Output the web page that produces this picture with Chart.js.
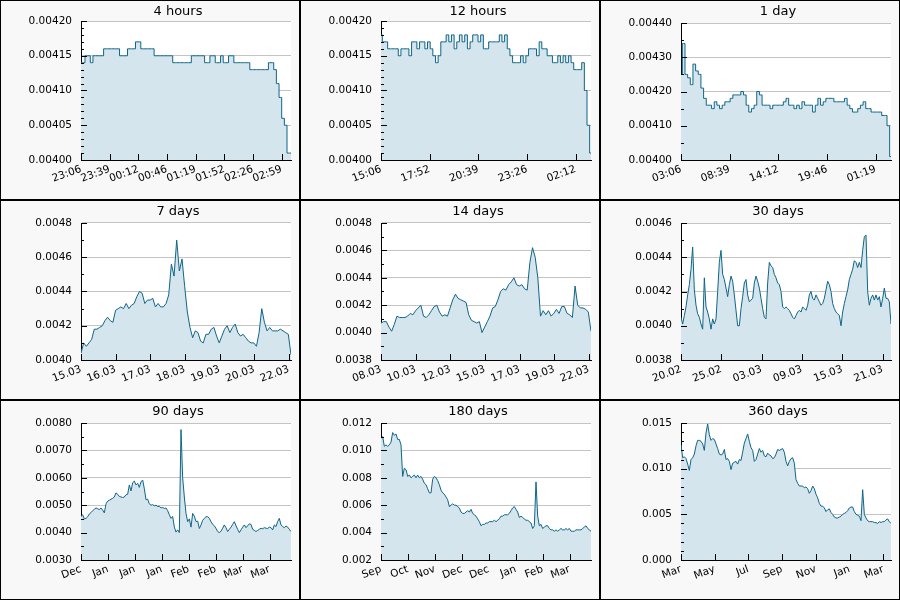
<!DOCTYPE html>
<html>
<head>
<meta charset="utf-8">
<title>Price history</title>
<script src="https://cdn.jsdelivr.net/npm/chart.js"></script>
<style>
  body { margin: 0; background: #fff; }
  #grid { width: 900px; height: 600px; display: grid; grid-template-columns: repeat(3, 300px); grid-template-rows: repeat(3, 200px); }
  .cell { box-sizing: border-box; width: 300px; height: 200px; border: 1px solid #000; background: #f8f8f8; }
  canvas { display: block; }
</style>
</head>
<body>
<div id="grid"></div>
<script>
// titles of the nine panels
const titles = ['4 hours', '12 hours', '1 day', '7 days', '14 days', '30 days', '90 days', '180 days', '360 days'];

// x tick labels
const ticks4h = ['23:06', '23:39', '00:12', '00:46', '01:19', '01:52', '02:26', '02:59'];
const ticks12h = ['15:06', '17:52', '20:39', '23:26', '02:12'];
const ticks1d = ['03:06', '08:39', '14:12', '19:46', '01:19'];
const ticks7d = ['15.03', '16.03', '17.03', '18.03', '19.03', '20.03', '22.03'];
const ticks14d = ['08.03', '10.03', '12.03', '15.03', '17.03', '19.03', '22.03'];
const ticks30d = ['20.02', '25.02', '03.03', '09.03', '15.03', '21.03'];
const ticks90d = ['Dec', 'Jan', 'Jan', 'Jan', 'Feb', 'Feb', 'Mar', 'Mar'];
const ticks180d = ['Sep', 'Oct', 'Nov', 'Dec', 'Dec', 'Jan', 'Feb', 'Mar'];
const ticks360d = ['Mar', 'May', 'Jul', 'Sep', 'Nov', 'Jan', 'Mar'];

// y axis ranges [min, max, step]
const yRange4h = [0.0040, 0.0042, 0.00005];
const yRange12h = [0.0040, 0.0042, 0.00005];
const yRange1d = [0.0040, 0.0044, 0.0001];
const yRange7d = [0.0040, 0.0048, 0.0002];
const yRange14d = [0.0038, 0.0048, 0.0002];
const yRange30d = [0.0038, 0.0046, 0.0002];
const yRange90d = [0.0030, 0.0080, 0.0010];
const yRange180d = [0.002, 0.012, 0.002];
const yRange360d = [0.000, 0.015, 0.005];

// price samples, evenly spaced over each period
const hours4 = [0.00414, 0.00414, 0.00415, 0.00415, 0.00414, 0.00415, 0.00415, 0.00415, 0.00415, 0.00416,
  0.00416, 0.00416, 0.00416, 0.00416, 0.00416, 0.00415, 0.00415, 0.00415, 0.00416, 0.00416,
  0.00416, 0.00417, 0.00417, 0.00416, 0.00416, 0.00416, 0.00416, 0.00416, 0.00415, 0.00415,
  0.00415, 0.00415, 0.00415, 0.00415, 0.00415, 0.00414, 0.00414, 0.00414, 0.00414, 0.00414,
  0.00414, 0.00414, 0.00415, 0.00415, 0.00415, 0.00415, 0.00415, 0.00414, 0.00414, 0.00415,
  0.00415, 0.00414, 0.00414, 0.00415, 0.00414, 0.00414, 0.00415, 0.00415, 0.00414, 0.00414,
  0.00414, 0.00414, 0.00414, 0.00414, 0.00413, 0.00413, 0.00413, 0.00413, 0.00413, 0.00413,
  0.00413, 0.00414, 0.00414, 0.00413, 0.00411, 0.00409, 0.00406, 0.00405, 0.00401, 0.00401];

const hours12 = [0.00418, 0.00417, 0.00417, 0.00416, 0.00416, 0.00416, 0.00416, 0.00415, 0.00416, 0.00416,
  0.00416, 0.00415, 0.00417, 0.00417, 0.00416, 0.00417, 0.00417, 0.00416, 0.00417, 0.00416,
  0.00415, 0.00414, 0.00415, 0.00417, 0.00417, 0.00418, 0.00417, 0.00418, 0.00416, 0.00417,
  0.00418, 0.00417, 0.00418, 0.00416, 0.00417, 0.00418, 0.00418, 0.00417, 0.00418, 0.00416,
  0.00416, 0.00417, 0.00417, 0.00417, 0.00417, 0.00418, 0.00417, 0.00418, 0.00416, 0.00415,
  0.00414, 0.00414, 0.00414, 0.00415, 0.00414, 0.00415, 0.00416, 0.00416, 0.00416, 0.00415,
  0.00417, 0.00416, 0.00416, 0.00415, 0.00415, 0.00414, 0.00414, 0.00415, 0.00414, 0.00415,
  0.00414, 0.00415, 0.00414, 0.00413, 0.00413, 0.00413, 0.00414, 0.00410, 0.00405, 0.00401];

const day1 = [0.00425, 0.00434, 0.00425, 0.00424, 0.00422, 0.00428, 0.00426, 0.00425, 0.00421, 0.00418,
  0.00416, 0.00416, 0.00415, 0.00417, 0.00416, 0.00415, 0.00416, 0.00417, 0.00417, 0.00418,
  0.00419, 0.00419, 0.00419, 0.00420, 0.00419, 0.00416, 0.00414, 0.00415, 0.00416, 0.00420,
  0.00419, 0.00416, 0.00416, 0.00416, 0.00415, 0.00416, 0.00416, 0.00416, 0.00416, 0.00417,
  0.00418, 0.00416, 0.00416, 0.00415, 0.00416, 0.00415, 0.00417, 0.00416, 0.00416, 0.00416,
  0.00414, 0.00416, 0.00418, 0.00416, 0.00417, 0.00418, 0.00418, 0.00418, 0.00417, 0.00417,
  0.00417, 0.00417, 0.00418, 0.00416, 0.00415, 0.00414, 0.00414, 0.00415, 0.00416, 0.00417,
  0.00415, 0.00415, 0.00414, 0.00414, 0.00414, 0.00414, 0.00413, 0.00413, 0.00410, 0.00401];

const days7 = [0.00404, 0.00410, 0.00408, 0.00410, 0.00412, 0.00418, 0.00418, 0.00419, 0.00420, 0.00423,
  0.00425, 0.00423, 0.00422, 0.00429, 0.00430, 0.00431, 0.00430, 0.00433, 0.00430, 0.00432,
  0.00433, 0.00437, 0.00440, 0.00439, 0.00433, 0.00435, 0.00435, 0.00436, 0.00431, 0.00433,
  0.00431, 0.00431, 0.00433, 0.00438, 0.00456, 0.00449, 0.00470, 0.00452, 0.00459, 0.00443,
  0.00428, 0.00419, 0.00413, 0.00417, 0.00416, 0.00411, 0.00410, 0.00415, 0.00415, 0.00418,
  0.00419, 0.00414, 0.00410, 0.00414, 0.00418, 0.00420, 0.00416, 0.00419, 0.00421, 0.00416,
  0.00414, 0.00415, 0.00413, 0.00411, 0.00410, 0.00410, 0.00408, 0.00416, 0.00430, 0.00422,
  0.00417, 0.00419, 0.00417, 0.00417, 0.00417, 0.00418, 0.00417, 0.00416, 0.00415, 0.00403];

const days14 = [0.00407, 0.00408, 0.00408, 0.00404, 0.00401, 0.00406, 0.00412, 0.00411, 0.00411, 0.00411,
  0.00412, 0.00414, 0.00413, 0.00416, 0.00418, 0.00420, 0.00412, 0.00411, 0.00413, 0.00416,
  0.00419, 0.00420, 0.00415, 0.00412, 0.00413, 0.00412, 0.00418, 0.00424, 0.00428, 0.00425,
  0.00424, 0.00423, 0.00422, 0.00413, 0.00409, 0.00408, 0.00407, 0.00408, 0.00400, 0.00404,
  0.00408, 0.00412, 0.00418, 0.00419, 0.00424, 0.00430, 0.00432, 0.00431, 0.00435, 0.00437,
  0.00440, 0.00435, 0.00434, 0.00435, 0.00432, 0.00431, 0.00451, 0.00462, 0.00455, 0.00440,
  0.00412, 0.00416, 0.00413, 0.00416, 0.00412, 0.00414, 0.00417, 0.00414, 0.00419, 0.00419,
  0.00414, 0.00413, 0.00411, 0.00434, 0.00420, 0.00418, 0.00418, 0.00417, 0.00415, 0.00401];

const days30 = [0.00405, 0.00401, 0.00406, 0.00411, 0.00418, 0.00424, 0.00433, 0.00446, 0.00421, 0.00412,
  0.00407, 0.00405, 0.00401, 0.00398, 0.00428, 0.00411, 0.00408, 0.00404, 0.00398, 0.00404,
  0.00401, 0.00404, 0.00420, 0.00437, 0.00444, 0.00430, 0.00427, 0.00422, 0.00417, 0.00424,
  0.00429, 0.00426, 0.00418, 0.00409, 0.00400, 0.00400, 0.00410, 0.00417, 0.00425, 0.00427,
  0.00418, 0.00414, 0.00415, 0.00416, 0.00425, 0.00429, 0.00426, 0.00422, 0.00416, 0.00410,
  0.00405, 0.00404, 0.00425, 0.00437, 0.00435, 0.00434, 0.00430, 0.00428, 0.00425, 0.00424,
  0.00420, 0.00411, 0.00410, 0.00411, 0.00410, 0.00409, 0.00407, 0.00405, 0.00404, 0.00406,
  0.00408, 0.00409, 0.00408, 0.00411, 0.00410, 0.00409, 0.00412, 0.00418, 0.00420, 0.00416,
  0.00415, 0.00418, 0.00416, 0.00414, 0.00412, 0.00413, 0.00416, 0.00421, 0.00426, 0.00424,
  0.00420, 0.00413, 0.00410, 0.00408, 0.00407, 0.00406, 0.00400, 0.00408, 0.00413, 0.00417,
  0.00421, 0.00427, 0.00430, 0.00433, 0.00438, 0.00437, 0.00434, 0.00437, 0.00434, 0.00444,
  0.00452, 0.00453, 0.00420, 0.00412, 0.00416, 0.00418, 0.00415, 0.00418, 0.00415, 0.00417,
  0.00411, 0.00416, 0.00422, 0.00416, 0.00416, 0.00414, 0.00401];

const days90 = [0.00459, 0.00465, 0.00450, 0.00452, 0.00458, 0.00468, 0.00473, 0.00480, 0.00485, 0.00490,
  0.00487, 0.00484, 0.00490, 0.00482, 0.00472, 0.00505, 0.00515, 0.00518, 0.00522, 0.00525,
  0.00530, 0.00545, 0.00540, 0.00532, 0.00530, 0.00528, 0.00530, 0.00538, 0.00540, 0.00574,
  0.00552, 0.00582, 0.00588, 0.00574, 0.00580, 0.00565, 0.00585, 0.00592, 0.00560, 0.00520,
  0.00522, 0.00505, 0.00500, 0.00502, 0.00498, 0.00500, 0.00495, 0.00496, 0.00490, 0.00492,
  0.00488, 0.00490, 0.00480, 0.00465, 0.00452, 0.00459, 0.00420, 0.00402, 0.00410, 0.00400,
  0.00776, 0.00600, 0.00530, 0.00470, 0.00440, 0.00450, 0.00420, 0.00470, 0.00460, 0.00440,
  0.00442, 0.00415, 0.00428, 0.00445, 0.00452, 0.00458, 0.00458, 0.00452, 0.00440, 0.00430,
  0.00425, 0.00415, 0.00404, 0.00400, 0.00405, 0.00416, 0.00428, 0.00418, 0.00404, 0.00412,
  0.00420, 0.00430, 0.00440, 0.00425, 0.00412, 0.00400, 0.00410, 0.00420, 0.00428, 0.00418,
  0.00425, 0.00432, 0.00430, 0.00412, 0.00408, 0.00404, 0.00408, 0.00412, 0.00416, 0.00414,
  0.00418, 0.00416, 0.00415, 0.00420, 0.00418, 0.00410, 0.00428, 0.00422, 0.00440, 0.00452,
  0.00428, 0.00422, 0.00418, 0.00424, 0.00420, 0.00412, 0.00404];

const days180 = [0.0109, 0.0110, 0.0103, 0.0104, 0.0103, 0.0104, 0.0106, 0.0113, 0.0111, 0.0112,
  0.0108, 0.0108, 0.0104, 0.0081, 0.0087, 0.0086, 0.0081, 0.0082, 0.0080, 0.0081,
  0.0082, 0.0080, 0.0082, 0.0080, 0.0081, 0.0079, 0.0076, 0.0075, 0.0072, 0.0069,
  0.0069, 0.0079, 0.0081, 0.0080, 0.0078, 0.0075, 0.0071, 0.0069, 0.0068, 0.0066,
  0.0064, 0.0059, 0.0060, 0.0061, 0.0060, 0.0060, 0.0059, 0.0058, 0.0055, 0.0054,
  0.0054, 0.0055, 0.0056, 0.0055, 0.0057, 0.0054, 0.0053, 0.0052, 0.0050, 0.0048,
  0.0045, 0.0046, 0.0046, 0.0047, 0.0047, 0.0048, 0.0048, 0.0048, 0.0049, 0.0048,
  0.0049, 0.0050, 0.0052, 0.0052, 0.0053, 0.0053, 0.0053, 0.0054, 0.0056, 0.0058,
  0.0059, 0.0057, 0.0055, 0.0051, 0.0052, 0.0051, 0.0050, 0.0049, 0.0049, 0.0048,
  0.0047, 0.0043, 0.0045, 0.0077, 0.0052, 0.0045, 0.0046, 0.0043, 0.0044, 0.0045,
  0.0045, 0.0043, 0.0042, 0.0042, 0.0041, 0.0042, 0.0041, 0.0042, 0.0043, 0.0042,
  0.0042, 0.0043, 0.0042, 0.0043, 0.0041, 0.0041, 0.0041, 0.0042, 0.0042, 0.0042,
  0.0042, 0.0043, 0.0044, 0.0045, 0.0043, 0.0042, 0.0041];

const days360 = [0.0126, 0.0112, 0.0113, 0.0111, 0.0105, 0.0098, 0.0110, 0.0112, 0.0116, 0.0125,
  0.0131, 0.0131, 0.0130, 0.0127, 0.0120, 0.0139, 0.0149, 0.0137, 0.0131, 0.0133,
  0.0132, 0.0127, 0.0122, 0.0116, 0.0115, 0.0116, 0.0121, 0.0110, 0.0111, 0.0108,
  0.0099, 0.0106, 0.0107, 0.0108, 0.0105, 0.0110, 0.0109, 0.0118, 0.0128, 0.0133,
  0.0138, 0.0130, 0.0123, 0.0120, 0.0108, 0.0110, 0.0116, 0.0122, 0.0118, 0.0120,
  0.0114, 0.0113, 0.0117, 0.0115, 0.0114, 0.0111, 0.0112, 0.0116, 0.0121, 0.0120,
  0.0121, 0.0122, 0.0118, 0.0108, 0.0103, 0.0108, 0.0111, 0.0112, 0.0106, 0.0088,
  0.0084, 0.0081, 0.0081, 0.0081, 0.0079, 0.0080, 0.0078, 0.0073, 0.0076, 0.0081,
  0.0078, 0.0072, 0.0068, 0.0062, 0.0059, 0.0059, 0.0057, 0.0053, 0.0055, 0.0056,
  0.0052, 0.0050, 0.0047, 0.0046, 0.0046, 0.0047, 0.0048, 0.0050, 0.0051, 0.0052,
  0.0054, 0.0057, 0.0058, 0.0058, 0.0053, 0.0050, 0.0049, 0.0048, 0.0043, 0.0077,
  0.0050, 0.0046, 0.0043, 0.0042, 0.0042, 0.0042, 0.0041, 0.0041, 0.0040, 0.0042,
  0.0041, 0.0042, 0.0042, 0.0044, 0.0045, 0.0042, 0.0040];

// panel setup: data, ticks, y range, decimals, minor ticks per step, x span in tick units
const panels = [
  { data: hours4, ticks: ticks4h, y: yRange4h, dec: 5, minor: 5, span: 7.33, stepped: true, top: 20 },
  { data: hours12, ticks: ticks12h, y: yRange12h, dec: 5, minor: 5, span: 4.315, stepped: true, top: 20 },
  { data: day1, ticks: ticks1d, y: yRange1d, dec: 5, minor: 2, span: 4.315, stepped: true, top: 22 },
  { data: days7, ticks: ticks7d, y: yRange7d, dec: 4, minor: 2, span: 6.06, top: 22 },
  { data: days14, ticks: ticks14d, y: yRange14d, dec: 4, minor: 2, span: 6.06, top: 22 },
  { data: days30, ticks: ticks30d, y: yRange30d, dec: 4, minor: 2, span: 5.21, top: 22 },
  { data: days90, ticks: ticks90d, y: yRange90d, dec: 4, minor: 2, span: 7.79, top: 22 },
  { data: days180, ticks: ticks180d, y: yRange180d, dec: 3, minor: 2, span: 7.79, top: 22 },
  { data: days360, ticks: ticks360d, y: yRange360d, dec: 3, minor: 5, span: 6.23, top: 22 }
];

const FONT = 'DejaVu Sans';

// white plot area + title drawn at a fixed spot
const panelDeco = {
  id: 'panelDeco',
  beforeDraw(chart, args, opts) {
    const a = chart.chartArea, ctx = chart.ctx;
    ctx.save();
    ctx.fillStyle = '#fff';
    ctx.fillRect(a.left, a.top, a.right - a.left, a.bottom - a.top);
    ctx.fillStyle = '#000';
    ctx.font = '13px "' + FONT + '"';
    ctx.textAlign = 'center';
    ctx.textBaseline = 'alphabetic';
    ctx.fillText(opts.title, 177, 14);
    ctx.restore();
  },
  // tick marks point into the plot, with minor ticks on y
  afterDatasetsDraw(chart, args, opts) {
    const ctx = chart.ctx, xs = chart.scales.x, ys = chart.scales.y;
    const a = chart.chartArea;
    ctx.save();
    ctx.strokeStyle = '#000';
    ctx.lineWidth = 1;
    ctx.beginPath();
    const step = opts.step, sub = opts.minor;
    const n = Math.round((ys.max - ys.min) / step * sub);
    for (let i = 0; i <= n; i++) {
      const py = Math.round(ys.getPixelForValue(ys.min + i * step / sub)) + 0.5;
      const len = i % sub === 0 ? 6 : 3;
      ctx.moveTo(a.left, py);
      ctx.lineTo(a.left + len, py);
    }
    xs.ticks.forEach(t => {
      const px = Math.round(xs.getPixelForValue(t.value)) + 0.5;
      ctx.moveTo(px, a.bottom);
      ctx.lineTo(px, a.bottom - 6);
    });
    ctx.stroke();
    ctx.restore();
  }
};

const grid = document.getElementById('grid');

panels.forEach((p, idx) => {
  const cell = document.createElement('div');
  cell.className = 'cell';
  const canvas = document.createElement('canvas');
  canvas.width = 298;
  canvas.height = 198;
  cell.appendChild(canvas);
  grid.appendChild(cell);

  const points = p.data.map((v, k) => ({ x: k * p.span / (p.data.length - 1), y: v }));
  const [yMin, yMax, yStep] = p.y;

  new Chart(canvas.getContext('2d'), {
    type: 'line',
    data: {
      datasets: [{
        data: points,
        borderColor: '#0f6588',
        backgroundColor: '#d5e5ed',
        borderWidth: 1,
        pointRadius: 0,
        fill: 'start',
        stepped: p.stepped ? 'middle' : false,
        tension: 0
      }]
    },
    options: {
      responsive: false,
      animation: false,
      layout: { padding: { left: 0, right: 8, top: p.top, bottom: 0 } },
      plugins: {
        legend: { display: false },
        tooltip: { enabled: false },
        title: { display: false },
        panelDeco: { title: titles[idx], step: yStep, minor: p.minor }
      },
      scales: {
        x: {
          type: 'linear',
          min: 0,
          max: p.span,
          afterBuildTicks: s => { s.ticks = p.ticks.map((_, i) => ({ value: i })); },
          afterFit: s => { s.height = 39; },
          grid: { display: false, drawTicks: false },
          border: { display: true, color: '#000', width: 1 },
          ticks: {
            autoSkip: false,
            minRotation: 20,
            maxRotation: 20,
            padding: 3,
            color: '#000',
            font: { family: FONT, size: 10.5 },
            callback: (v) => p.ticks[Math.round(v)]
          }
        },
        y: {
          min: yMin,
          max: yMax,
          afterBuildTicks: s => {
            const n = Math.round((yMax - yMin) / yStep);
            s.ticks = [];
            for (let i = 0; i <= n; i++) s.ticks.push({ value: yMin + i * yStep });
          },
          afterFit: s => { s.width = 80; },
          grid: { color: '#c4c4c4', drawTicks: false },
          border: { display: true, color: '#000', width: 1 },
          ticks: {
            padding: 9,
            color: '#000',
            font: { family: FONT, size: 10.5 },
            callback: (v) => v.toFixed(p.dec)
          }
        }
      }
    },
    plugins: [panelDeco]
  });
});
</script>
</body>
</html>
